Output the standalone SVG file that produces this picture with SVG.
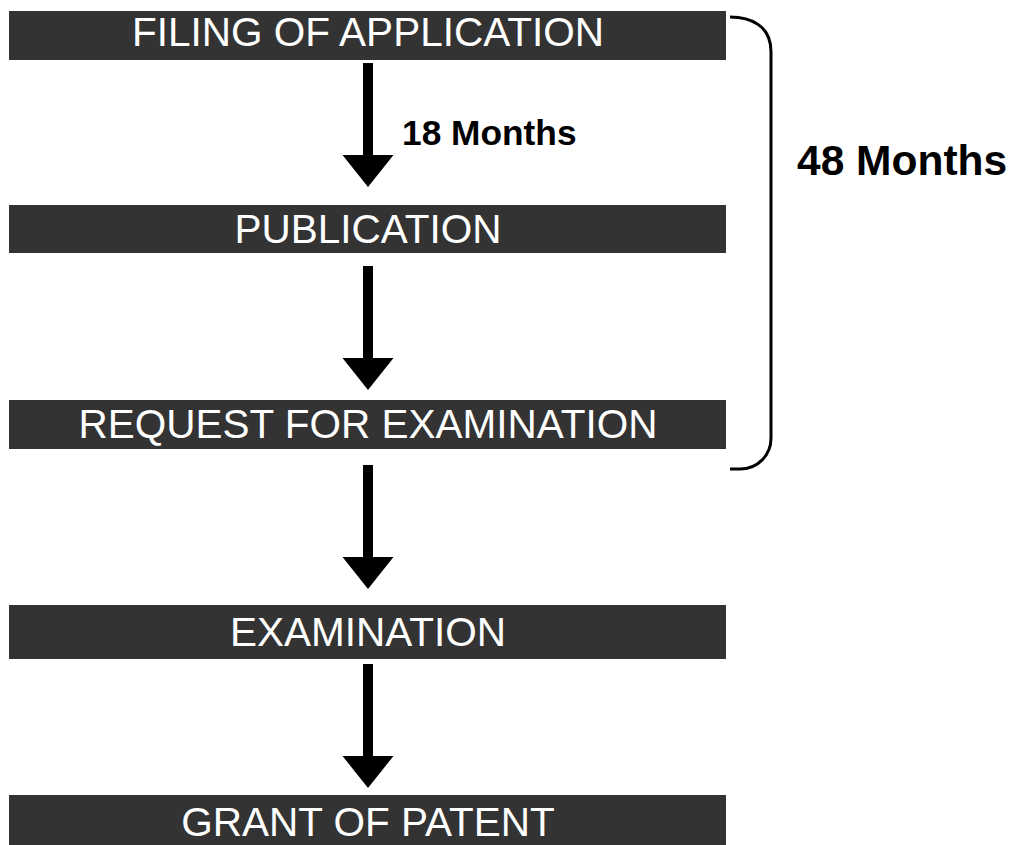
<svg xmlns="http://www.w3.org/2000/svg" width="1009" height="845" viewBox="0 0 1009 845">
<defs>
<style>
.box{fill:#333333}
.lbl{font-family:"Liberation Sans",Arial,sans-serif;font-size:40.5px;fill:#ffffff;text-anchor:middle}
.note{font-family:"Liberation Sans",Arial,sans-serif;font-weight:bold;fill:#000000}
.arr{fill:#000000}
.brace{fill:none;stroke:#000000;stroke-width:3}
</style>
<path id="arrowShape" d="M-5,0 H5 V92 H25.5 L0,124 L-25.5,92 H-5 Z"/>
</defs>
<rect width="1009" height="845" fill="#ffffff"/>
<g id="connectors">
<use href="#arrowShape" class="arr" x="368" y="63"/>
<use href="#arrowShape" class="arr" x="368" y="266"/>
<use href="#arrowShape" class="arr" x="368" y="465"/>
<use href="#arrowShape" class="arr" x="368" y="664"/>
<text class="note" x="402" y="145" font-size="35.3">18 Months</text>
</g>
<g id="node-filing">
<rect class="box" x="9" y="11" width="717" height="49"/>
<text class="lbl" x="368" y="46">FILING OF APPLICATION</text>
</g>
<g id="node-publication">
<rect class="box" x="9" y="205" width="717" height="48"/>
<text class="lbl" x="368" y="243">PUBLICATION</text>
</g>
<g id="node-request">
<rect class="box" x="9" y="400" width="717" height="49"/>
<text class="lbl" x="368" y="438">REQUEST FOR EXAMINATION</text>
</g>
<g id="node-examination">
<rect class="box" x="9" y="605" width="717" height="54"/>
<text class="lbl" x="368" y="646">EXAMINATION</text>
</g>
<g id="node-grant">
<rect class="box" x="9" y="795" width="717" height="50"/>
<text class="lbl" x="368" y="836">GRANT OF PATENT</text>
</g>
<g id="brace-48">
<path class="brace" d="M730,17 C750,17 771,25 771,52 V438 C771,455 758,469 740,469 H730"/>
<text class="note" x="797" y="175" font-size="42.5">48 Months</text>
</g>
</svg>
